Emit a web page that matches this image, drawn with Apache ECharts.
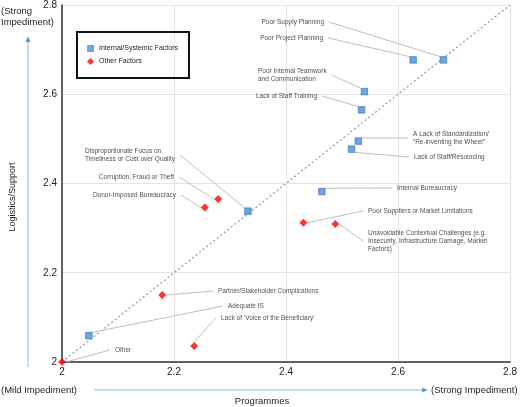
<!DOCTYPE html>
<html>
<head>
<meta charset="utf-8">
<script src="https://cdn.jsdelivr.net/npm/echarts@6/dist/echarts.min.js"></script>
<style>html,body{margin:0;padding:0;background:#fff}#c{width:520px;height:407px}</style>
</head>
<body>
<div id="c"></div>
<script>
// ---- data ----
var internalNames = ['Poor Supply Planning','Poor Project Planning','Poor Internal Teamwork\nand Communication','Lack of Staff Training','A Lack of Standardization/\n\u201CRe-inventing the Wheel\u201D','Lack of Staff/Resourcing','Internal Bureaucracy','Disproportionate Focus on\nTimeliness or Cost over Quality','Adequate IS'];
var internalX = [2.681, 2.627, 2.540, 2.535, 2.529, 2.517, 2.464, 2.332, 2.048];
var internalY = [2.677, 2.677, 2.606, 2.565, 2.495, 2.477, 2.382, 2.338, 2.059];
var otherNames = ['Other','Corruption, Fraud or Theft','Donor-Imposed Bureaucracy','Poor Suppliers or Market Limitations','Unavoidable Contextual Challenges (e.g.\nInsecurity, Infrastructure Damage, Market\nFactors)','Partner/Stakeholder Complications','Lack of \u2018Voice of the Beneficiary\u2019'];
var otherX = [2.000, 2.279, 2.255, 2.431, 2.488, 2.179, 2.236];
var otherY = [2.000, 2.365, 2.346, 2.312, 2.309, 2.150, 2.036];
var xTicks = [2, 2.2, 2.4, 2.6, 2.8];
var yTicks = [2, 2.2, 2.4, 2.6, 2.8];

// ---- label placement (pixel anchors for annotation text) ----
var internalLabelPos = [
  [329, 22, 'right'], [328, 38, 'right'], [253, 75, 'left'], [322, 96, 'right'],
  [408, 138, 'left'], [409, 157, 'left'], [392, 188, 'left'], [80, 155, 'left'], [223, 306, 'left']
];
var otherLabelPos = [
  [110, 350, 'left'], [179, 177, 'right'], [181, 195, 'right'], [363, 211, 'left'],
  [363, 241, 'left'], [213, 291, 'left'], [216, 318, 'left']
];

function pts(xs, ys, names) {
  return xs.map(function (x, i) { return { name: names[i], value: [x, ys[i]] }; });
}

var chart = echarts.init(document.getElementById('c'), null, { renderer: 'canvas' });
var fontFam = 'Liberation Sans, Arial, Helvetica, sans-serif';
var lblStyle = { show: true, formatter: '{b}', fontSize: 6.5, color: '#222', fontFamily: fontFam, lineHeight: 8, padding: [0, 5] };

function layoutFor(posArr) {
  return function (p) {
    var a = posArr[p.dataIndex];
    return { x: a[0], y: a[1], align: a[2], verticalAlign: 'middle' };
  };
}

chart.setOption({
  animation: false,
  textStyle: { fontFamily: fontFam },
  grid: { left: 62, right: 6, top: 5, bottom: 45, containLabel: false },
  legend: {
    left: 77, top: 32, orient: 'vertical',
    borderColor: '#111', borderWidth: 2, padding: [13, 11, 13, 10],
    itemWidth: 7, itemHeight: 7, itemGap: 6,
    textStyle: { fontSize: 7, color: '#222', fontFamily: fontFam },
    data: [
      { name: 'Internal/Systemic Factors', icon: 'rect', itemStyle: { borderWidth: 0 } },
      { name: 'Other Factors', icon: 'diamond' }
    ]
  },
  xAxis: {
    type: 'value', min: 2, max: 2.8, interval: 0.2,
    axisLine: { lineStyle: { color: '#333', width: 1.5 } },
    axisTick: { show: false },
    splitLine: { lineStyle: { color: '#e4e4e4', width: 1 } },
    axisLabel: { fontSize: 10, color: '#222', margin: 5, fontFamily: fontFam,
      formatter: function (v) { var t = xTicks.filter(function (k) { return Math.abs(k - v) < 1e-6; })[0]; return t === undefined ? '' : String(t); } }
  },
  yAxis: {
    type: 'value', min: 2, max: 2.8, interval: 0.2,
    axisLine: { show: true, lineStyle: { color: '#333', width: 1.5 } },
    axisTick: { show: false },
    splitLine: { lineStyle: { color: '#e4e4e4', width: 1 } },
    axisLabel: { fontSize: 10, color: '#222', margin: 5, fontFamily: fontFam,
      formatter: function (v) { var t = yTicks.filter(function (k) { return Math.abs(k - v) < 1e-6; })[0]; return t === undefined ? '' : String(t); } }
  },
  series: [
    {
      type: 'line', name: 'diag', silent: true, symbol: 'none', z: 1,
      data: [[2, 2], [2.8, 2.8]],
      lineStyle: { color: '#8d97aa', width: 1.2, type: [2, 2.5] }
    },
    {
      type: 'scatter', name: 'Internal/Systemic Factors', symbol: 'rect', symbolSize: 6.5, z: 5,
      itemStyle: { color: '#4a90d9', borderColor: '#2a6cb3', borderWidth: 0.8 },
      data: pts(internalX, internalY, internalNames),
      label: lblStyle,
      labelLine: { show: true, length2: 0, lineStyle: { color: '#bdbdbd', width: 1 } },
      labelLayout: layoutFor(internalLabelPos)
    },
    {
      type: 'scatter', name: 'Other Factors', symbol: 'diamond', symbolSize: 8, z: 5,
      itemStyle: { color: '#ff0000' },
      data: pts(otherX, otherY, otherNames),
      label: lblStyle,
      labelLine: { show: true, length2: 0, lineStyle: { color: '#bdbdbd', width: 1 } },
      labelLayout: layoutFor(otherLabelPos)
    }
  ],
  graphic: [
    { type: 'text', left: 1, top: 6, style: { text: '(Strong\nImpediment)', fontSize: 9.5, lineHeight: 11, fill: '#222', fontFamily: fontFam } },
    { type: 'line', shape: { x1: 28, y1: 367, x2: 28, y2: 42 }, style: { stroke: '#b3d0ea', lineWidth: 1.5 } },
    { type: 'polygon', shape: { points: [[28, 36], [25.5, 42], [30.5, 42]] }, style: { fill: '#5b9bd5' } },
    { type: 'text', x: 13, y: 197, rotation: Math.PI / 2, style: { text: 'Logistics/Support', fontSize: 9, fill: '#222', align: 'center', verticalAlign: 'middle', fontFamily: fontFam } },
    { type: 'text', x: 1, y: 390, style: { text: '(Mild Impediment)', fontSize: 9.5, fill: '#222', verticalAlign: 'middle', fontFamily: fontFam } },
    { type: 'line', shape: { x1: 94, y1: 390, x2: 422, y2: 390 }, style: { stroke: '#b3d0ea', lineWidth: 1.5 } },
    { type: 'polygon', shape: { points: [[428, 390], [422, 387.5], [422, 392.5]] }, style: { fill: '#5b9bd5' } },
    { type: 'text', x: 431, y: 390, style: { text: '(Strong Impediment)', fontSize: 9.5, fill: '#222', verticalAlign: 'middle', fontFamily: fontFam } },
    { type: 'text', x: 262, y: 401, style: { text: 'Programmes', fontSize: 9.5, fill: '#222', align: 'center', verticalAlign: 'middle', fontFamily: fontFam } }
  ]
});
</script>
</body>
</html>
